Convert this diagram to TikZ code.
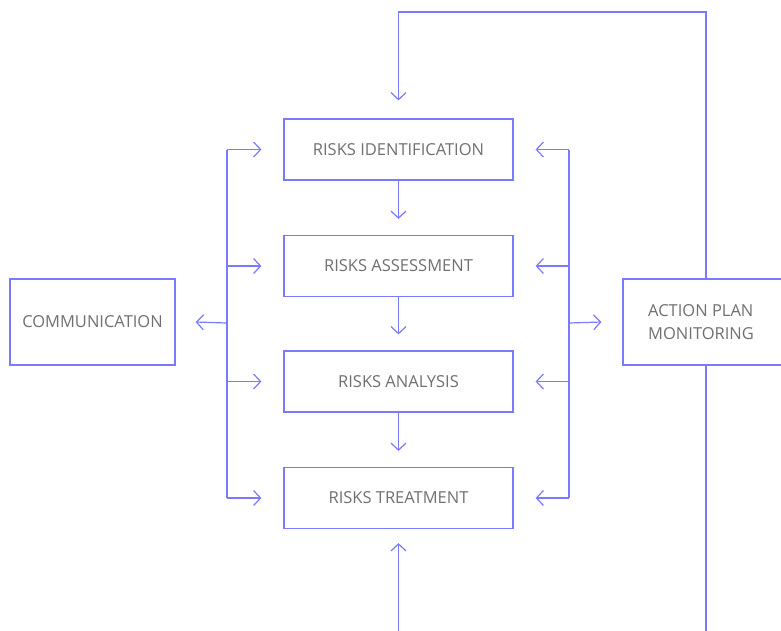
\documentclass[tikz,border=0pt]{standalone}
\usepackage{fontspec}
\setmainfont{Open Sans}
\usetikzlibrary{arrows.meta}
\definecolor{linec}{RGB}{122,122,255}
\definecolor{textc}{RGB}{112,112,112}
\begin{document}
\begin{tikzpicture}[x=1pt,y=-1pt,
  box/.style={draw=linec,line width=1.2pt,fill=white,inner sep=0pt,
    text=textc,font=\fontsize{16.5}{22}\selectfont,align=center},
  conn/.style={draw=linec,line width=1.2pt},
  arr/.style={conn,-{Straight Barb[length=7pt,width=15pt,line width=1.2pt]}}]
\clip (0,0) rectangle (781,630);
\useasboundingbox (0,0) rectangle (781,630);
% process steps
\node[box,minimum width=229pt,minimum height=61pt] (ident) at (398.5,149.5) {RISKS IDENTIFICATION};
\node[box,minimum width=229pt,minimum height=61pt] (assess) at (398.5,266) {RISKS ASSESSMENT};
\node[box,minimum width=229pt,minimum height=61pt] (anal) at (398.5,381.5) {RISKS ANALYSIS};
\node[box,minimum width=229pt,minimum height=61pt] (treat) at (398.5,498) {RISKS TREATMENT};
% side blocks
\node[box,minimum width=165pt,minimum height=86pt] (comm) at (92.5,322) {COMMUNICATION};
\node[box,minimum width=180pt,minimum height=86pt] (mon) at (713,322) {};
\node[text=textc,font=\fontsize{16.5}{23}\selectfont,align=left,anchor=west,inner sep=0pt] (monl) at (648,322) {ACTION PLAN\\MONITORING};
% buses
\coordinate (lt) at (227,149.5);
\coordinate (lb) at (227,498);
\coordinate (rt) at (569,149.5);
\coordinate (rb) at (569,498);
\draw[conn] (lt) -- (lb);
\draw[conn] (rt) -- (rb);
% left bus arrows
\draw[arr] (lt) -- ([xshift=-22pt]ident.west);
\draw[arr] (227,266) -- ([xshift=-22pt]assess.west);
\draw[arr] (227,381.5) -- ([xshift=-22pt]anal.west);
\draw[arr] (lb) -- ([xshift=-22pt]treat.west);
\draw[arr] (227,323) -- ([xshift=20pt]comm.east);
% right bus arrows
\draw[arr] (rt) -- ([xshift=22pt]ident.east);
\draw[arr] (569,266) -- ([xshift=22pt]assess.east);
\draw[arr] (569,381.5) -- ([xshift=22pt]anal.east);
\draw[arr] (rb) -- ([xshift=22pt]treat.east);
\draw[arr] (569,323) -- ([xshift=-21pt]mon.west);
% flow between steps
\draw[arr] (ident.south) -- ([yshift=16pt]assess.north);
\draw[arr] (assess.south) -- ([yshift=16pt]anal.north);
\draw[arr] (anal.south) -- ([yshift=16pt]treat.north);
% feedback loop
\coordinate (tl) at (398.5,12);
\coordinate (tr) at (706,12);
\draw[arr] (mon.north -| tr) -- (tr) -- (tl) -- ([yshift=18pt]ident.north);
\coordinate (bottom) at (706,632);
\draw[conn] (mon.south -| tr) -- (bottom);
\coordinate (inb) at (398.5,632);
\draw[arr] (inb) -- ([yshift=-14pt]treat.south);
\end{tikzpicture}
\end{document}
